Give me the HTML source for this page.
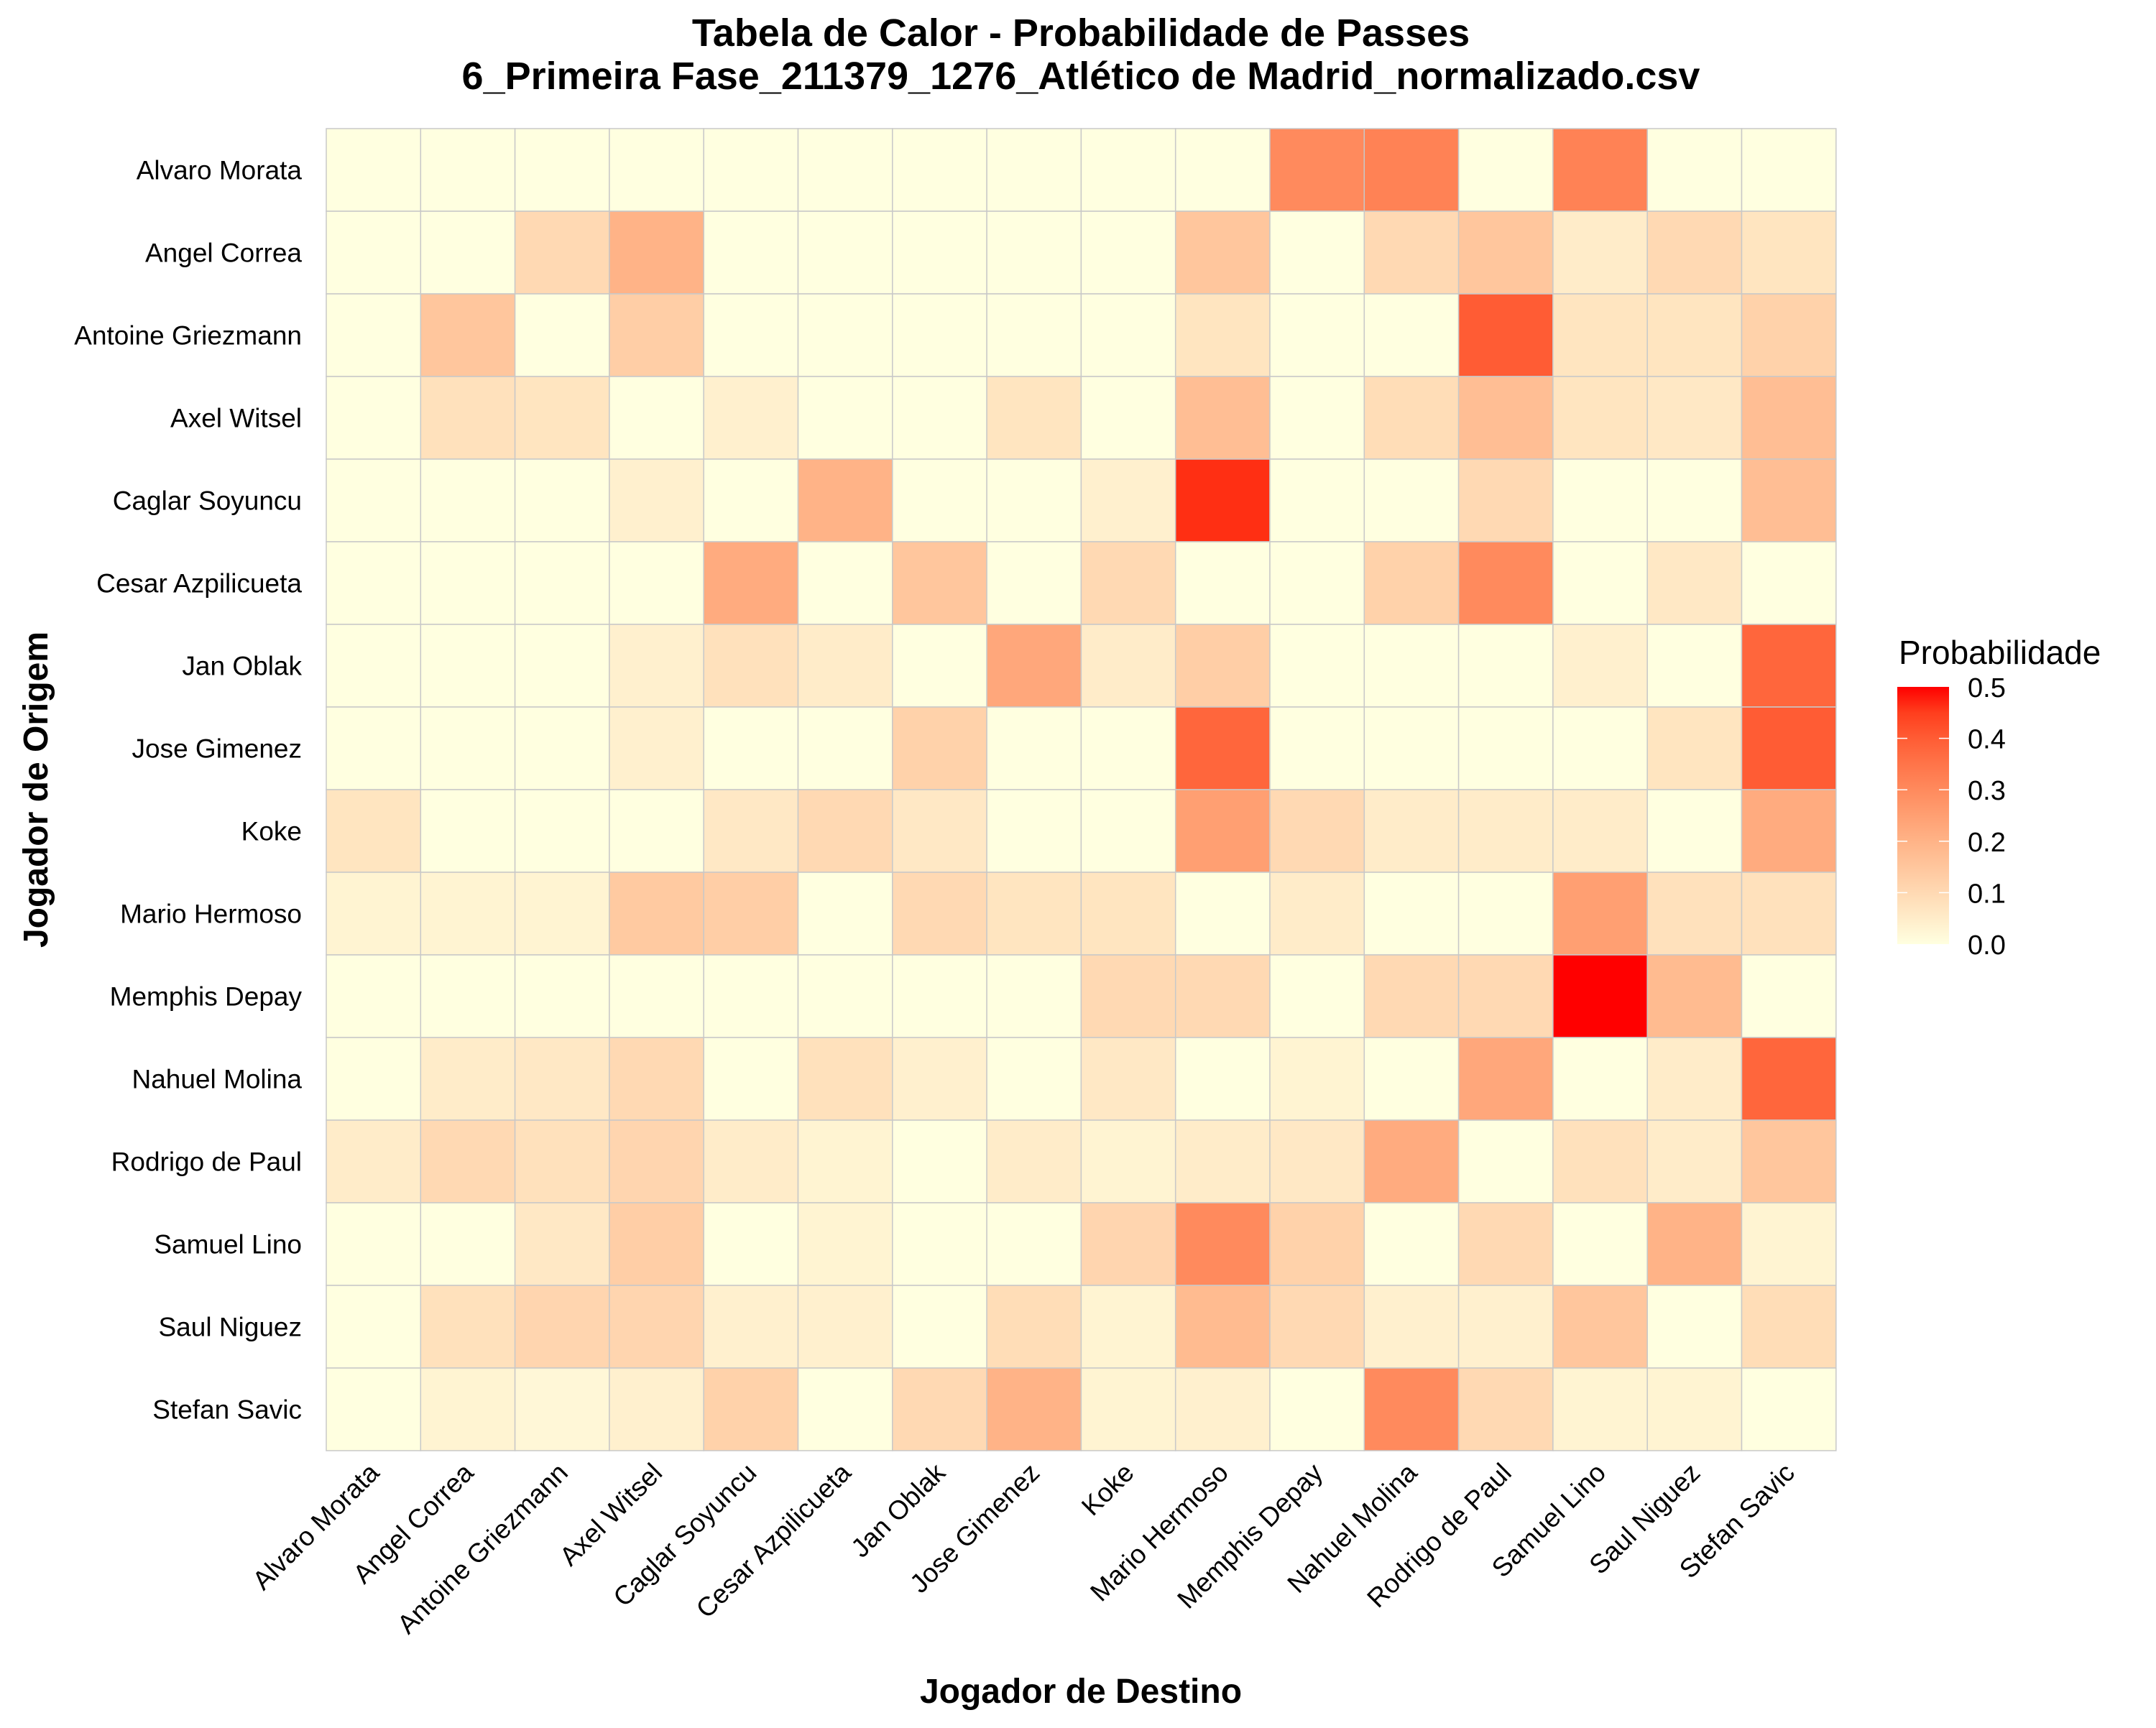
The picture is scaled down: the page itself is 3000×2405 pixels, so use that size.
<!DOCTYPE html>
<html><head><meta charset="utf-8"><style>
body{margin:0;background:#fff}
svg text{font-family:"Liberation Sans",Arial,sans-serif}
</style></head><body>
<svg id="chart" width="3000" height="2400" viewBox="0 0 3000 2400" xmlns="http://www.w3.org/2000/svg">
<rect width="3000" height="2400" fill="#fff"/>
<text x="1504" y="64" font-size="54" font-weight="bold" text-anchor="middle">Tabela de Calor - Probabilidade de Passes</text>
<text x="1504" y="124" font-size="54" font-weight="bold" text-anchor="middle">6_Primeira Fase_211379_1276_Atlético de Madrid_normalizado.csv</text>
<g id="cells"></g>
<g id="ylabels"></g>
<g id="xlabels"></g>
<text x="1504" y="2370" font-size="48" font-weight="bold" text-anchor="middle">Jogador de Destino</text>
<text transform="translate(66,1099) rotate(-90)" font-size="48" font-weight="bold" text-anchor="middle">Jogador de Origem</text>
<g>
<defs><linearGradient id="lg" x1="0" y1="1" x2="0" y2="0"></linearGradient></defs>
<text x="2642" y="924" font-size="46">Probabilidade</text>
<rect x="2640" y="956" width="72" height="358" fill="url(#lg)"/>
<g id="legticks"></g>
</g>
</svg>
<script>
const players=["Alvaro Morata","Angel Correa","Antoine Griezmann","Axel Witsel","Caglar Soyuncu","Cesar Azpilicueta","Jan Oblak","Jose Gimenez","Koke","Mario Hermoso","Memphis Depay","Nahuel Molina","Rodrigo de Paul","Samuel Lino","Saul Niguez","Stefan Savic"];
const legendTicks=[0,0.1,0.2,0.3,0.4,0.5];
const row0=[0,0,0,0,0,0,0,0,0,0,0.3,0.32,0,0.32,0,0];
const row1=[0,0,0.1,0.2,0,0,0,0,0,0.15,0,0.1,0.15,0.05,0.1,0.07];
const row2=[0,0.15,0,0.13,0,0,0,0,0,0.07,0,0,0.4,0.07,0.07,0.12];
const row3=[0,0.08,0.07,0,0.04,0,0,0.07,0,0.17,0,0.09,0.17,0.07,0.06,0.17];
const row4=[0,0,0,0.04,0,0.2,0,0,0.04,0.47,0,0,0.1,0,0,0.17];
const row5=[0,0,0,0,0.22,0,0.15,0,0.1,0,0,0.12,0.3,0,0.06,0];
const row6=[0,0,0,0.04,0.08,0.05,0,0.23,0.05,0.13,0,0,0,0.04,0,0.38];
const row7=[0,0,0,0.04,0,0,0.12,0,0,0.38,0,0,0,0,0.07,0.4];
const row8=[0.07,0,0,0,0.06,0.1,0.06,0,0,0.25,0.1,0.05,0.05,0.05,0,0.22];
const row9=[0.03,0.03,0.03,0.14,0.13,0,0.1,0.07,0.07,0,0.05,0,0,0.25,0.08,0.08];
const row10=[0,0,0,0,0,0,0,0,0.1,0.1,0,0.1,0.1,0.5,0.18,0];
const row11=[0,0.05,0.06,0.1,0,0.08,0.04,0,0.06,0,0.03,0,0.23,0,0.05,0.38];
const row12=[0.05,0.1,0.08,0.11,0.05,0.03,0,0.05,0.03,0.05,0.06,0.22,0,0.08,0.05,0.15];
const row13=[0,0,0.06,0.13,0,0.03,0,0,0.11,0.3,0.12,0,0.1,0,0.2,0.03];
const row14=[0,0.08,0.11,0.11,0.04,0.04,0,0.09,0.03,0.18,0.1,0.04,0.04,0.15,0,0.09];
const row15=[0,0.03,0.02,0.04,0.12,0,0.1,0.2,0.03,0.04,0,0.3,0.1,0.03,0.03,0];
const matrix=[row0,row1,row2,row3,row4,row5,row6,row7,row8,row9,row10,row11,row12,row13,row14,row15];

const NS="http://www.w3.org/2000/svg";
const X0=454,Y0=179,CW=131.3,CH=115,VMAX=0.5;
const xPos=i=>X0+i*CW, yPos=j=>Y0+j*CH;
function lin(c){c/=255;return c<=0.04045?c/12.92:Math.pow((c+0.055)/1.055,2.4);}
function unlin(c){c=c<=0.0031308?12.92*c:1.055*Math.pow(c,1/2.4)-0.055;return Math.round(Math.max(0,Math.min(1,c))*255);}
function toLab(r,g,b){r=lin(r);g=lin(g);b=lin(b);
 let x=(0.4124*r+0.3576*g+0.1805*b)/0.95047,y=0.2126*r+0.7152*g+0.0722*b,z=(0.0193*r+0.1192*g+0.9505*b)/1.08883;
 const f=t=>t>0.008856?Math.cbrt(t):7.787*t+16/116;
 return [116*f(y)-16,500*(f(x)-f(y)),200*(f(y)-f(z))];}
function fromLab(L,a,bb){let fy=(L+16)/116,fx=fy+a/500,fz=fy-bb/200;
 const fi=t=>t*t*t>0.008856?t*t*t:(t-16/116)/7.787;
 let x=fi(fx)*0.95047,y=fi(fy),z=fi(fz)*1.08883;
 return [unlin(3.2406*x-1.5372*y-0.4986*z),unlin(-0.9689*x+1.8758*y+0.0415*z),unlin(0.0557*x-0.2040*y+1.0570*z)];}
const LOW=toLab(255,255,224),HIGH=toLab(255,0,0);
function color(v){const t=Math.max(0,Math.min(1,v/VMAX));
 const c=fromLab(LOW[0]+(HIGH[0]-LOW[0])*t,LOW[1]+(HIGH[1]-LOW[1])*t,LOW[2]+(HIGH[2]-LOW[2])*t);
 return `rgb(${c[0]},${c[1]},${c[2]})`;}

const cells=document.getElementById('cells');
matrix.forEach((row,j)=>row.forEach((v,i)=>{
 const r=document.createElementNS(NS,'rect');
 r.setAttribute('x',xPos(i));r.setAttribute('y',yPos(j));
 r.setAttribute('width',CW);r.setAttribute('height',CH);
 r.setAttribute('fill',color(v));r.setAttribute('stroke','#c8c8c8');r.setAttribute('stroke-width','1.5');
 
 
 cells.appendChild(r);}));
const yl=document.getElementById('ylabels'),xl=document.getElementById('xlabels');
players.forEach((p,k)=>{
 const t=document.createElementNS(NS,'text');
 t.setAttribute('x',420);t.setAttribute('y',yPos(k)+CH/2+13);
 t.setAttribute('font-size','37');t.setAttribute('text-anchor','end');t.textContent=p;
 
 
 yl.appendChild(t);
 const u=document.createElementNS(NS,'text');
 const cx=xPos(k)+CW/2;
 u.setAttribute('transform',`translate(${cx+10},${2052}) rotate(-45)`);
 u.setAttribute('font-size','37');u.setAttribute('text-anchor','end');u.textContent=p;
 
 
 xl.appendChild(u);});
const lg=document.getElementById('lg');
for(let s=0;s<=10;s++){const st=document.createElementNS(NS,'stop');
 st.setAttribute('offset',s/10);st.setAttribute('stop-color',color(VMAX*s/10));lg.appendChild(st);}
const lt=document.getElementById('legticks');
const LB=1314,LT=956;
legendTicks.forEach(v=>{const y=LB-(LB-LT)*v/VMAX;
 const t=document.createElementNS(NS,'text');
 t.setAttribute('x',2738);t.setAttribute('y',y+14);t.setAttribute('font-size','38');t.textContent=v.toFixed(1);
 
 
 lt.appendChild(t);
 if(v>0&&v<VMAX){[[2640,2654],[2698,2712]].forEach(([a,b])=>{const l=document.createElementNS(NS,'line');
  l.setAttribute('x1',a);l.setAttribute('x2',b);l.setAttribute('y1',y);l.setAttribute('y2',y);l.setAttribute('stroke','#fff');l.setAttribute('stroke-width','1.5');
  
  
  lt.appendChild(l);});}});
</script>
</body></html>
